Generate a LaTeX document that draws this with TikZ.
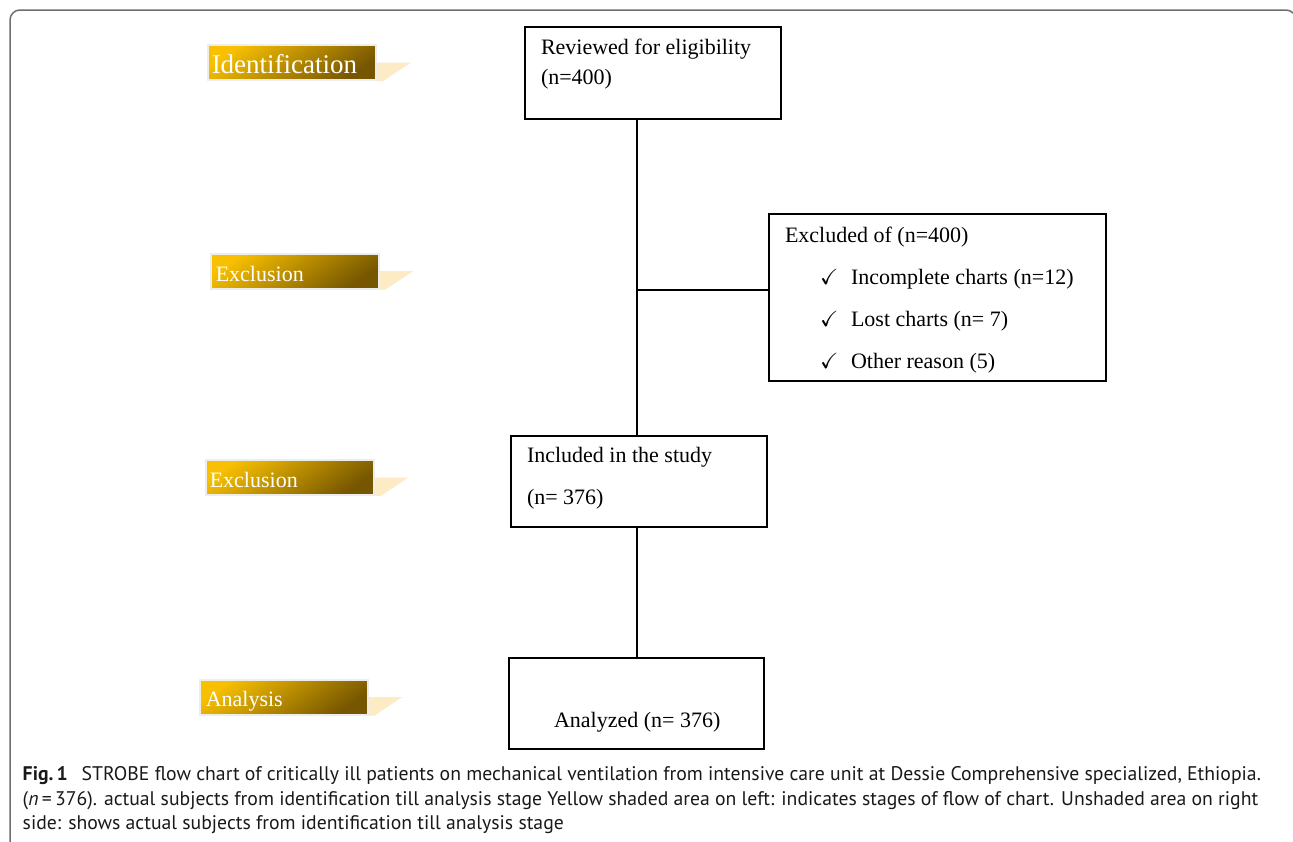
\documentclass[tikz,border=0pt]{standalone}
\usepackage{amssymb}
\usepackage{fontspec}
\setmainfont{Liberation Serif}
\newfontfamily\capfont{PT Sans}
\usetikzlibrary{calc,positioning}

\definecolor{goldtop}{HTML}{F8C000}
\definecolor{goldmid}{HTML}{D9A200}
\definecolor{goldbot}{HTML}{765600}
\definecolor{wedge}{HTML}{FCEBC4}
\definecolor{framegray}{HTML}{6E6E6E}

\tikzset{
  flowbox/.style={draw, inner sep=0pt},
  flowtxt/.style={anchor=base west, inner sep=0pt, font=\fontsize{22}{26}\selectfont},
  stagebox/.style={draw=black!7, line width=2pt, top color=goldtop, middle color=goldmid, bottom color=goldbot,
    shading angle=35, minimum width=168pt, minimum height=35pt, inner sep=0pt},
  stagetxt/.style={anchor=base west, inner sep=0pt, text=white},
  captxt/.style={anchor=base west, inner sep=0pt, text=black!90, font=\capfont\fontsize{19.7}{22}\selectfont},
}

\begin{document}
\begin{tikzpicture}[x=1pt, y=-1pt, line width=1.5pt]
    \useasboundingbox (0,0) rectangle (1293,841);
    % frame of the figure
    \draw[framegray, rounded corners=10pt] (10,850) -- (10,10) -- (1296,10) -- (1296,850);

    % stages on the left
    \coordinate (sid) at (292,62.5);
    \coordinate (sex1) at (294.5,271);
    \coordinate (sex2) at (289.5,477.5);
    \coordinate (san) at (283.5,697);
    \foreach \s in {sid,sex1,sex2,san} {
        \node[stagebox] (\s box) at (\s) {};
        \fill[wedge] (\s box.east) -- ++(34,0) -- ($(\s box.south east)+(6,0)$) -- (\s box.south east) -- cycle;
    }
    \node[stagetxt, font=\fontsize{27}{27}\selectfont] (tid) at (211,73) {Identification};
    \node[stagetxt, font=\fontsize{22}{22}\selectfont] (tex1) at (215,281) {Exclusion};
    \node[stagetxt, font=\fontsize{22}{22}\selectfont] (tex2) at (209,487) {Exclusion};
    \node[stagetxt, font=\fontsize{22}{22}\selectfont] (tan) at (205,706) {Analysis};

    % flow boxes
    \node[flowbox, minimum width=256pt, minimum height=92pt] (rev) at (653,73) {};
    \node[flowbox, minimum width=337pt, minimum height=167pt] (excl) at (937.5,297.5) {};
    \node[flowbox, minimum width=256pt, minimum height=91pt] (incl) at (639,481.5) {};
    \node[flowbox, minimum width=255pt, minimum height=91pt] (anal) at (636.5,703.5) {};

    \node[flowtxt] (rev1) at ($(rev.north west)+(16,28)$) {Reviewed for eligibility};
    \node[flowtxt] (rev2) at ($(rev.north west)+(16,58)$) {(n=400)};
    \node[flowtxt] (exc0) at ($(excl.north west)+(16,29)$) {Excluded of (n=400)};
    \foreach \t [count=\i] in {Incomplete charts (n=12), Lost charts (n= 7), Other reason (5)}
        \node[flowtxt] (exc\i) at ($(excl.north west)+(51,29+42*\i)$) {\makebox[31pt][l]{$\checkmark$}\t};
    \node[flowtxt] (inc1) at ($(incl.north west)+(16,27)$) {Included in the study};
    \node[flowtxt] (inc2) at ($(incl.north west)+(16,69)$) {(n= 376)};
    \node[flowtxt] (ana1) at ($(anal.north west)+(45,70)$) {Analyzed (n= 376)};

    % connectors
    \coordinate (j) at (637,290);
    \draw (rev.south -| j) -- (incl.north -| j);
    \draw (j) -- (excl.west |- j);
    \draw (incl.south -| j) -- (anal.north -| j);

    % caption
    \node[captxt] (cap1) at (22,780) {\textbf{Fig.\,1}\hspace{0.7em}STROBE flow chart of critically ill patients on mechanical ventilation from intensive care unit at Dessie Comprehensive specialized, Ethiopia.};
    \node[captxt] (cap2) at (22,805) {({\itshape n}\,=\,376). actual subjects from identification till analysis stage Yellow shaded area on left: indicates stages of flow of chart. Unshaded area on right};
    \node[captxt] (cap3) at (22,829) {side: shows actual subjects from identification till analysis stage};
\end{tikzpicture}
\end{document}
